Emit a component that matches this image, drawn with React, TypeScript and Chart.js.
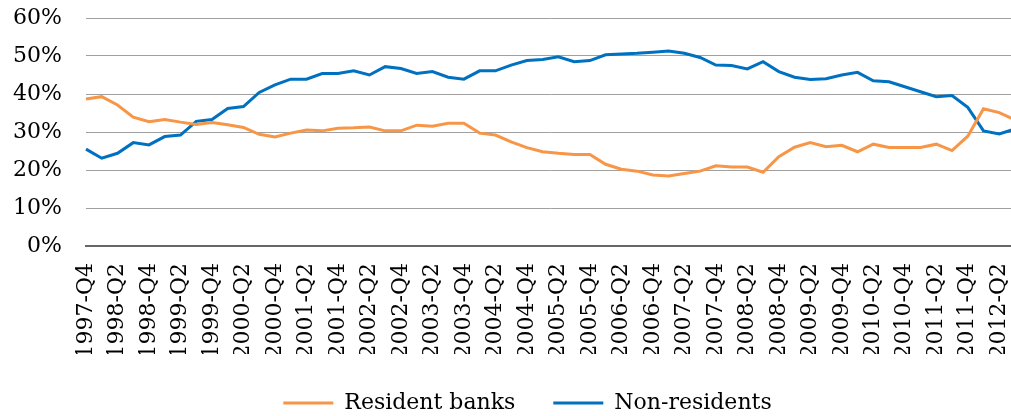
import React, { useEffect, useRef } from "react";
import { Chart, registerables } from "chart.js";

Chart.register(...registerables);

const quarters = [
  "1997-Q4",
  "1998-Q1", "1998-Q2", "1998-Q3", "1998-Q4",
  "1999-Q1", "1999-Q2", "1999-Q3", "1999-Q4",
  "2000-Q1", "2000-Q2", "2000-Q3", "2000-Q4",
  "2001-Q1", "2001-Q2", "2001-Q3", "2001-Q4",
  "2002-Q1", "2002-Q2", "2002-Q3", "2002-Q4",
  "2003-Q1", "2003-Q2", "2003-Q3", "2003-Q4",
  "2004-Q1", "2004-Q2", "2004-Q3", "2004-Q4",
  "2005-Q1", "2005-Q2", "2005-Q3", "2005-Q4",
  "2006-Q1", "2006-Q2", "2006-Q3", "2006-Q4",
  "2007-Q1", "2007-Q2", "2007-Q3", "2007-Q4",
  "2008-Q1", "2008-Q2", "2008-Q3", "2008-Q4",
  "2009-Q1", "2009-Q2", "2009-Q3", "2009-Q4",
  "2010-Q1", "2010-Q2", "2010-Q3", "2010-Q4",
  "2011-Q1", "2011-Q2", "2011-Q3", "2011-Q4",
  "2012-Q1", "2012-Q2", "2012-Q3",
];

const residentBanks = [
  38.7, 39.3, 37.1, 33.9, 32.7, 33.3, 32.6, 32.0, 32.5, 31.9,
  31.2, 29.4, 28.7, 29.7, 30.5, 30.3, 31.0, 31.1, 31.3, 30.3,
  30.3, 31.8, 31.5, 32.3, 32.3, 29.7, 29.2, 27.4, 25.9, 24.8,
  24.4, 24.1, 24.1, 21.5, 20.2, 19.7, 18.7, 18.4, 19.1, 19.7,
  21.1, 20.8, 20.8, 19.4, 23.5, 26.0, 27.2, 26.1, 26.5, 24.8,
  26.8, 25.9, 25.9, 25.9, 26.8, 25.1, 28.9, 36.1, 35.1, 33.2,
];

const nonResidents = [
  25.5, 23.1, 24.4, 27.2, 26.6, 28.8, 29.2, 32.8, 33.3, 36.2,
  36.7, 40.4, 42.4, 43.9, 43.9, 45.4, 45.4, 46.1, 45.0, 47.2,
  46.7, 45.4, 45.9, 44.4, 43.9, 46.1, 46.1, 47.6, 48.8, 49.1,
  49.8, 48.5, 48.8, 50.3, 50.5, 50.7, 51.0, 51.3, 50.7, 49.6,
  47.6, 47.5, 46.6, 48.5, 45.9, 44.4, 43.8, 44.0, 45.0, 45.7,
  43.5, 43.2, 41.9, 40.6, 39.3, 39.6, 36.5, 30.3, 29.5, 30.8,
];

const seriesNames = ["Resident banks", "Non-residents"];
const yTickValues = [0, 10, 20, 30, 40, 50, 60];

const ORANGE = "#F79646";
const BLUE = "#0070C0";
const FONT = { family: "'DejaVu Serif', serif", size: 22 };

const legendShift = {
  id: "legendShift",
  afterLayout(chart: any) {
    if (chart.legend) {
      chart.legend.left += 20;
      chart.legend.right += 20;
    }
  },
};

export default function App() {
  const ref = useRef<HTMLCanvasElement | null>(null);

  useEffect(() => {
    document.body.style.margin = "0";
    document.body.style.overflow = "hidden";
    const canvas = ref.current;
    if (!canvas) return;
    const defaultGen = (Chart.defaults.plugins.legend.labels as any).generateLabels;
    const chart = new Chart(canvas, {
      type: "line",
      data: {
        labels: quarters,
        datasets: [
          {
            label: seriesNames[0],
            data: residentBanks,
            borderColor: ORANGE,
            backgroundColor: ORANGE,
            borderWidth: 3,
            pointRadius: 0,
            tension: 0,
          },
          {
            label: seriesNames[1],
            data: nonResidents,
            borderColor: BLUE,
            backgroundColor: BLUE,
            borderWidth: 3,
            pointRadius: 0,
            tension: 0,
          },
        ],
      },
      plugins: [legendShift],
      options: {
        responsive: false,
        animation: false,
        devicePixelRatio: 1,
        layout: {
          autoPadding: false,
          padding: { top: 18, right: 15, left: 0, bottom: 0 },
        },
        plugins: {
          tooltip: { enabled: false },
          legend: {
            position: "bottom",
            labels: {
              boxWidth: 50,
              boxHeight: 3,
              padding: 38,
              color: "#000",
              font: FONT,
              generateLabels: (c: any) =>
                defaultGen(c).map((it: any) => ({
                  ...it,
                  fillStyle: it.strokeStyle,
                  lineWidth: 0,
                })),
            },
          },
        },
        scales: {
          x: {
            offset: false,
            grid: { display: false, drawTicks: false },
            border: { display: true, color: "#666666", width: 2 },
            ticks: {
              autoSkip: false,
              maxRotation: 90,
              minRotation: 90,
              padding: 17,
              color: "#000",
              font: FONT,
              callback: (_v: any, i: number) => (i % 2 === 0 ? quarters[i] : ""),
            },
            afterFit: (s: any) => {
              s.height = 108;
              s.paddingLeft = 0;
              s.paddingRight = 0;
              s.paddingTop = 0;
              s.paddingBottom = 0;
            },
          },
          y: {
            min: 0,
            max: 60,
            afterBuildTicks: (s: any) => {
              s.ticks = yTickValues.map((v) => ({ value: v }));
            },
            grid: { color: "#a0a0a0", lineWidth: 1, drawTicks: false },
            border: { display: false },
            ticks: {
              padding: 24,
              color: "#000",
              font: FONT,
              callback: (v: any) => v + "%",
            },
            afterFit: (s: any) => {
              s.width = 86;
              s.paddingLeft = 0;
              s.paddingRight = 0;
              s.paddingTop = 0;
              s.paddingBottom = 0;
            },
          },
        },
      },
    });
    return () => chart.destroy();
  }, []);

  return (
    <div style={{ width: 1030, height: 424 }}>
      <canvas ref={ref} width={1030} height={424} style={{ display: "block", width: 1030, height: 424 }} />
    </div>
  );
}
